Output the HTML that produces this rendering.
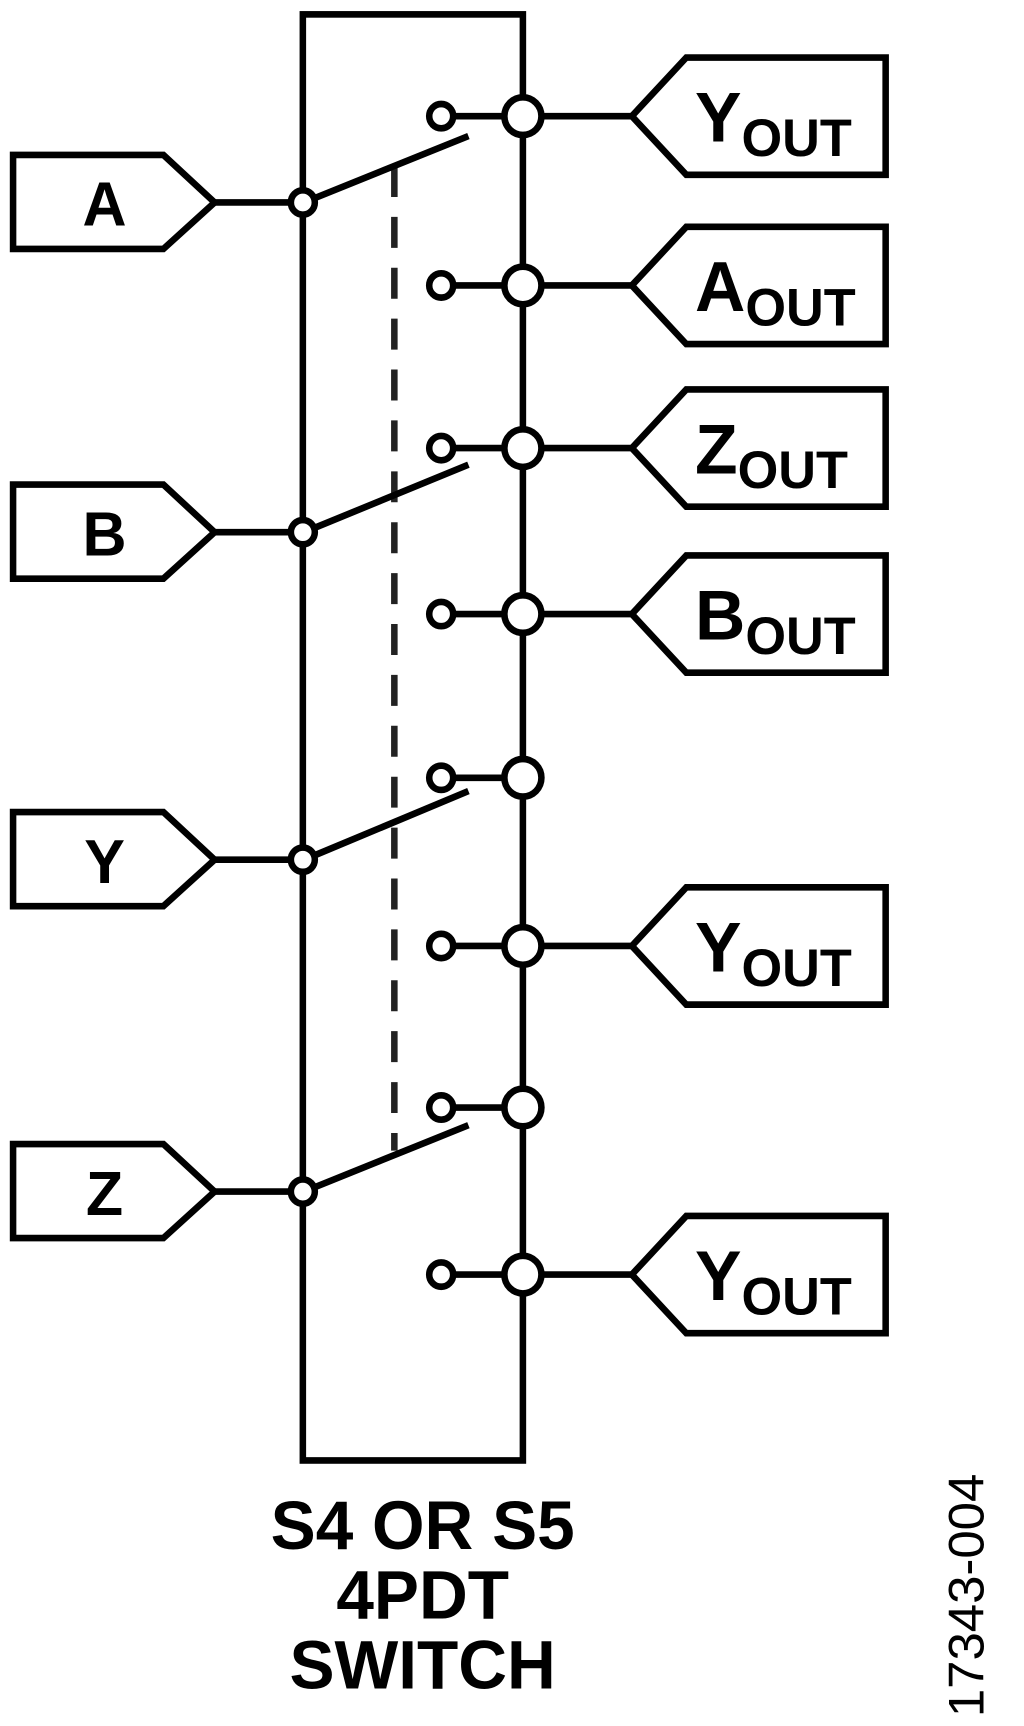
<!DOCTYPE html>
<html><head><meta charset="utf-8"><style>html,body{margin:0;padding:0;background:#fff}svg{display:block}</style></head><body>
<svg width="1024" height="1726" viewBox="0 0 940 1560" preserveAspectRatio="none" xmlns="http://www.w3.org/2000/svg">
<g fill="none" stroke="#000" stroke-width="6">
<rect x="278" y="13" width="202" height="1307"/>
<line x1="362" y1="150" x2="362" y2="1040" stroke-dasharray="28 18" stroke="#222"/>
<path d="M12,140 H150 L197,183 L150,225 H12 Z"/><line x1="197" y1="183" x2="268" y2="183"/>
<path d="M12,438 H150 L197,481 L150,523 H12 Z"/><line x1="197" y1="481" x2="268" y2="481"/>
<path d="M12,734 H150 L197,777 L150,819 H12 Z"/><line x1="197" y1="777" x2="268" y2="777"/>
<path d="M12,1034 H150 L197,1077 L150,1119 H12 Z"/><line x1="197" y1="1077" x2="268" y2="1077"/>
<line x1="289" y1="179" x2="430" y2="123"/>
<line x1="289" y1="477" x2="430" y2="420"/>
<line x1="289" y1="773" x2="430" y2="715"/>
<line x1="289" y1="1073" x2="430" y2="1017"/>
<g fill="#fff">
<circle cx="278" cy="183" r="11"/><circle cx="278" cy="481" r="11"/><circle cx="278" cy="777" r="11"/><circle cx="278" cy="1077" r="11"/>
</g>
<g>
<line x1="416" y1="105" x2="463" y2="105"/><line x1="416" y1="258" x2="463" y2="258"/><line x1="416" y1="405" x2="463" y2="405"/><line x1="416" y1="555" x2="463" y2="555"/><line x1="416" y1="703" x2="463" y2="703"/><line x1="416" y1="855" x2="463" y2="855"/><line x1="416" y1="1001" x2="463" y2="1001"/><line x1="416" y1="1152" x2="463" y2="1152"/>
</g>
<g fill="#fff">
<circle cx="405" cy="105" r="11"/><circle cx="405" cy="258" r="11"/><circle cx="405" cy="405" r="11"/><circle cx="405" cy="555" r="11"/><circle cx="405" cy="703" r="11"/><circle cx="405" cy="855" r="11"/><circle cx="405" cy="1001" r="11"/><circle cx="405" cy="1152" r="11"/>
<circle cx="480" cy="105" r="17"/><circle cx="480" cy="258" r="17"/><circle cx="480" cy="405" r="17"/><circle cx="480" cy="555" r="17"/><circle cx="480" cy="703" r="17"/><circle cx="480" cy="855" r="17"/><circle cx="480" cy="1001" r="17"/><circle cx="480" cy="1152" r="17"/>
</g>
<line x1="497" y1="105" x2="580" y2="105"/><path d="M580,105 L630,52 H813 V158 H630 Z"/>
<line x1="497" y1="258" x2="580" y2="258"/><path d="M580,258 L630,205 H813 V311 H630 Z"/>
<line x1="497" y1="405" x2="580" y2="405"/><path d="M580,405 L630,352 H813 V458 H630 Z"/>
<line x1="497" y1="555" x2="580" y2="555"/><path d="M580,555 L630,502 H813 V608 H630 Z"/>
<line x1="497" y1="855" x2="580" y2="855"/><path d="M580,855 L630,802 H813 V908 H630 Z"/>
<line x1="497" y1="1152" x2="580" y2="1152"/><path d="M580,1152 L630,1099 H813 V1205 H630 Z"/>
</g>
<g font-family="Liberation Sans, sans-serif" font-weight="bold" fill="#000">
<g font-size="56" text-anchor="middle">
<text x="96" y="204">A</text><text x="96" y="502">B</text><text x="96" y="798">Y</text><text x="96" y="1098">Z</text>
</g>
<g font-size="64">
<text x="638" y="128">Y<tspan font-size="48" dy="13">OUT</tspan></text>
<text x="638" y="281">A<tspan font-size="48" dy="13">OUT</tspan></text>
<text x="638" y="428">Z<tspan font-size="48" dy="13">OUT</tspan></text>
<text x="638" y="578">B<tspan font-size="48" dy="13">OUT</tspan></text>
<text x="638" y="878">Y<tspan font-size="48" dy="13">OUT</tspan></text>
<text x="638" y="1175">Y<tspan font-size="48" dy="13">OUT</tspan></text>
</g>
<g font-size="62" text-anchor="middle">
<text x="388" y="1400">S4 OR S5</text>
<text x="388" y="1463">4PDT</text>
<text x="388" y="1526">SWITCH</text>
</g>
</g>
<text x="0" y="0" transform="translate(903,1442) rotate(-90)" text-anchor="middle" font-family="Liberation Sans, sans-serif" font-size="46" fill="#000">17343-004</text>
</svg>
</body></html>
